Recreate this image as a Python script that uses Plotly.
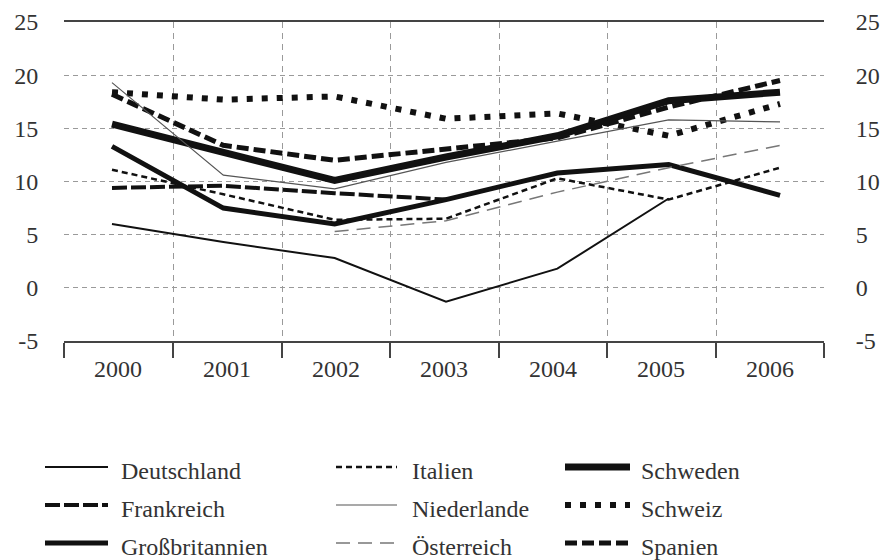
import plotly.graph_objects as go

# Daten
years = [2000, 2001, 2002, 2003, 2004, 2005, 2006]
year_labels = ['2000', '2001', '2002', '2003', '2004', '2005', '2006']
y_ticks = [-5, 0, 5, 10, 15, 20, 25]
y_labels = ['-5', '0', '5', '10', '15', '20', '25']

deutschland = [6.0, 4.3, 2.8, -1.3, 1.8, 8.4, None]
frankreich = [9.4, 9.6, 8.9, 8.3, None, None, None]
grossbritannien = [13.3, 7.5, 6.0, 8.3, 10.8, 11.6, 8.7]
italien = [11.1, 8.8, 6.4, 6.5, 10.3, 8.3, 11.3]
niederlande = [19.3, 10.6, 9.3, 11.8, 13.8, 15.8, 15.6]
oesterreich = [None, None, 5.3, 6.3, 9.0, 11.3, 13.4]
schweden = [15.4, 12.8, 10.1, 12.3, 14.3, 17.6, 18.4]
schweiz = [18.4, 17.7, 18.0, 15.9, 16.4, 14.3, 17.3]
spanien = [18.2, 13.4, 12.0, 13.1, 14.1, 17.0, 19.5]

series = {'Deutschland': deutschland, 'Frankreich': frankreich,
          'Großbritannien': grossbritannien, 'Italien': italien,
          'Niederlande': niederlande, 'Österreich': oesterreich,
          'Schweden': schweden, 'Schweiz': schweiz, 'Spanien': spanien}

styles = {'Deutschland': dict(color='#111111', width=2, dash='solid'),
          'Frankreich': dict(color='#111111', width=4, dash='15px,4px'),
          'Großbritannien': dict(color='#111111', width=5, dash='solid'),
          'Italien': dict(color='#111111', width=2.5, dash='6px,4px'),
          'Niederlande': dict(color='#555555', width=1.2, dash='solid'),
          'Österreich': dict(color='#777777', width=1.5, dash='14px,8px'),
          'Schweden': dict(color='#111111', width=7, dash='solid'),
          'Schweiz': dict(color='#111111', width=6, dash='6px,9px'),
          'Spanien': dict(color='#111111', width=5, dash='12px,5px')}

draw_order = ['Schweden', 'Großbritannien', 'Spanien', 'Schweiz', 'Frankreich',
              'Italien', 'Österreich', 'Niederlande', 'Deutschland']

# Kategoriegrenzen und Beschriftungspositionen (wie in der Vorlage leicht versetzt)
boundaries = [1999.569, 2000.548, 2001.527, 2002.497, 2003.476, 2004.447, 2005.425, 2006.395]
label_pos = [2000.054, 2001.033, 2002.012, 2002.982, 2003.961, 2004.931, 2005.910]

serif = 'Liberation Serif'
txt = '#333333'

fig = go.Figure()
for name in draw_order:
    fig.add_trace(go.Scatter(x=years, y=series[name], mode='lines', name=name,
                             line=styles[name], connectgaps=False, showlegend=False))
# rechte Achse
fig.add_trace(go.Scatter(x=[years[0]], y=[None], yaxis='y2', showlegend=False, hoverinfo='skip'))

# Legende von Hand, 3 Spalten (Pixelangaben relativ zur Seite, Plotfläche 64..824 / 22..341)
legend_cols = [['Deutschland', 'Frankreich', 'Großbritannien'],
               ['Italien', 'Niederlande', 'Österreich'],
               ['Schweden', 'Schweiz', 'Spanien']]
col_x = [(45, 108, 119), (336, 397, 410), (565, 630, 639)]
row_y = [467, 505, 543]
px_x = lambda p: (p - 64) / 760
px_y = lambda p: (341 - p) / 319
for c, names in enumerate(legend_cols):
    x0, x1, xt = col_x[c]
    for r, name in enumerate(names):
        fig.add_shape(type='line', xref='paper', yref='paper',
                      x0=px_x(x0), x1=px_x(x1), y0=px_y(row_y[r]), y1=px_y(row_y[r]),
                      line=styles[name])
        fig.add_annotation(text=name, xref='paper', yref='paper', x=px_x(xt), y=px_y(row_y[r] + 4),
                           xanchor='left', yanchor='middle', showarrow=False,
                           font=dict(family=serif, size=24, color=txt))

# body hat 8px Rand -> Figur etwas kleiner, Ränder entsprechend
fig.update_layout(
    width=886, height=552,
    margin=dict(l=56, r=70, t=14, b=219),
    paper_bgcolor='white', plot_bgcolor='white',
    showlegend=False,
    xaxis=dict(range=[boundaries[0], boundaries[-1]], tickmode='array',
               tickvals=label_pos, ticktext=year_labels, automargin=False,
               ticks='outside', ticklen=5, tickcolor='rgba(0,0,0,0)',
               showgrid=False, zeroline=False,
               showline=True, linecolor='#444444', linewidth=1.5, mirror=True,
               tickfont=dict(family=serif, size=24, color=txt),
               minor=dict(tickmode='array', tickvals=boundaries, ticks='outside',
                          ticklen=15, tickwidth=1.5, tickcolor='#444444',
                          showgrid=True, gridcolor='#9a9a9a', gridwidth=1, griddash='6px,5px')),
    yaxis=dict(range=[-5, 25], tickmode='array', tickvals=y_ticks, ticktext=y_labels,
               showgrid=True, gridcolor='#9a9a9a', automargin=False,
               gridwidth=1, griddash='5px,4px', zeroline=False, showline=False,
               ticks='outside', ticklen=20, tickcolor='rgba(0,0,0,0)',
               tickfont=dict(family=serif, size=24, color=txt)),
    yaxis2=dict(overlaying='y', side='right', range=[-5, 25], tickmode='array',
                tickvals=y_ticks, ticktext=y_labels, automargin=False,
                showgrid=False, zeroline=False, showline=False,
                ticks='outside', ticklen=26, tickcolor='rgba(0,0,0,0)',
                tickfont=dict(family=serif, size=24, color=txt)),
)

fig.write_html("out.html")
